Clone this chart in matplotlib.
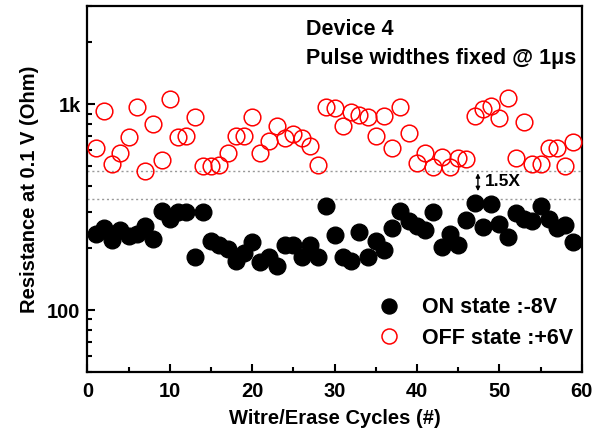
import numpy as np
import matplotlib
matplotlib.use('Agg')
import matplotlib.pyplot as plt
from matplotlib.ticker import FixedLocator, FixedFormatter, LogLocator, NullFormatter, MultipleLocator

plt.rcParams['font.family'] = ['Liberation Sans', 'DejaVu Sans']
plt.rcParams['font.weight'] = 'bold'

# write/erase cycle index
cycles = list(range(1, 60))

# resistance read at 0.1 V (Ohm)
on_state = [235, 250, 218, 246, 228, 235, 255, 222, 304, 278,
            301, 301, 181, 299, 217, 206, 197, 173, 190, 214,
            171, 182, 163, 206, 206, 182, 206, 180, 322, 231,
            182, 173, 240, 181, 216, 195, 250, 304, 270, 255,
            244, 301, 203, 235, 208, 275, 331, 252, 327, 262,
            226, 296, 277, 270, 322, 278, 250, 258, 214]
off_state = [614, 925, 514, 577, 695, 967, 474, 800, 534, 1057,
             695, 702, 862, 503, 501, 507, 577, 702, 702, 862,
             577, 662, 785, 682, 718, 687, 628, 507, 970, 960,
             785, 918, 891, 868, 702, 875, 610, 970, 721, 516,
             577, 497, 552, 497, 546, 542, 878, 953, 978, 853,
             1066, 550, 821, 511, 511, 614, 610, 503, 657]

# window bounds (dotted guide lines)
off_min = 474
on_max = 347

fig = plt.figure(figsize=(6.02, 4.32), dpi=100)
ax = fig.add_axes([0.1453, 0.1389, 0.8210, 0.8472])

ax.plot(cycles, on_state, 'o', ms=12, mfc='black', mec='black', mew=1,
        label='ON state :-8V', zorder=3)
ax.plot(cycles, off_state, 'o', ms=12, mfc='none', mec='red', mew=1.1,
        label='OFF state :+6V', zorder=3)

ax.axhline(off_min, color='#999999', ls=(0, (1.5, 2)), lw=1, zorder=1)
ax.axhline(on_max, color='#999999', ls=(0, (1.5, 2)), lw=1, zorder=1)

ax.annotate('', xy=(47.4, 378), xytext=(47.4, 462),
            arrowprops=dict(arrowstyle='<|-|>', color='black', lw=1,
                            mutation_scale=6, shrinkA=0, shrinkB=0))
ax.text(48.3, 419, '1.5X', fontsize=12.5, fontweight='bold', va='center', ha='left')

ax.set_yscale('log')
ax.set_xlim(0, 60)
ax.set_ylim(50, 3000)

ax.xaxis.set_major_locator(MultipleLocator(10))
ax.xaxis.set_minor_locator(MultipleLocator(5))
ax.yaxis.set_major_locator(FixedLocator([100, 1000]))
ax.yaxis.set_major_formatter(FixedFormatter(['100', '1k']))
ax.yaxis.set_minor_locator(LogLocator(base=10, subs=np.arange(2, 10)))
ax.yaxis.set_minor_formatter(NullFormatter())

ax.tick_params(which='both', direction='in', top=False, right=False, labelsize=14.5, width=1.5)
ax.tick_params(which='major', length=6)
ax.tick_params(which='minor', length=3.5)
ax.tick_params(axis='x', pad=7)
ax.tick_params(axis='y', pad=5)
for lab in ax.get_xticklabels() + ax.get_yticklabels():
    lab.set_fontweight('bold')
for sp in ax.spines.values():
    sp.set_linewidth(1.6)

ax.set_xlabel('Witre/Erase Cycles (#)', fontsize=14.5, fontweight='bold', labelpad=6)
ax.set_ylabel('Resistance at 0.1 V (Ohm)', fontsize=14.5, fontweight='bold', labelpad=6)

ax.text(0.442, 0.937, 'Device 4', transform=ax.transAxes, fontsize=15.5,
        fontweight='bold', va='center')
ax.text(0.442, 0.857, 'Pulse widthes fixed @ 1\u03bcs', transform=ax.transAxes,
        fontsize=15.5, fontweight='bold', va='center')

leg = ax.legend(loc='lower right', bbox_to_anchor=(1.022, 0.01), frameon=False,
                fontsize=15.5, handletextpad=0.55, labelspacing=0.45, markerscale=0.9)
for t in leg.get_texts():
    t.set_fontweight('bold')

fig.savefig('out.png', dpi=100)
